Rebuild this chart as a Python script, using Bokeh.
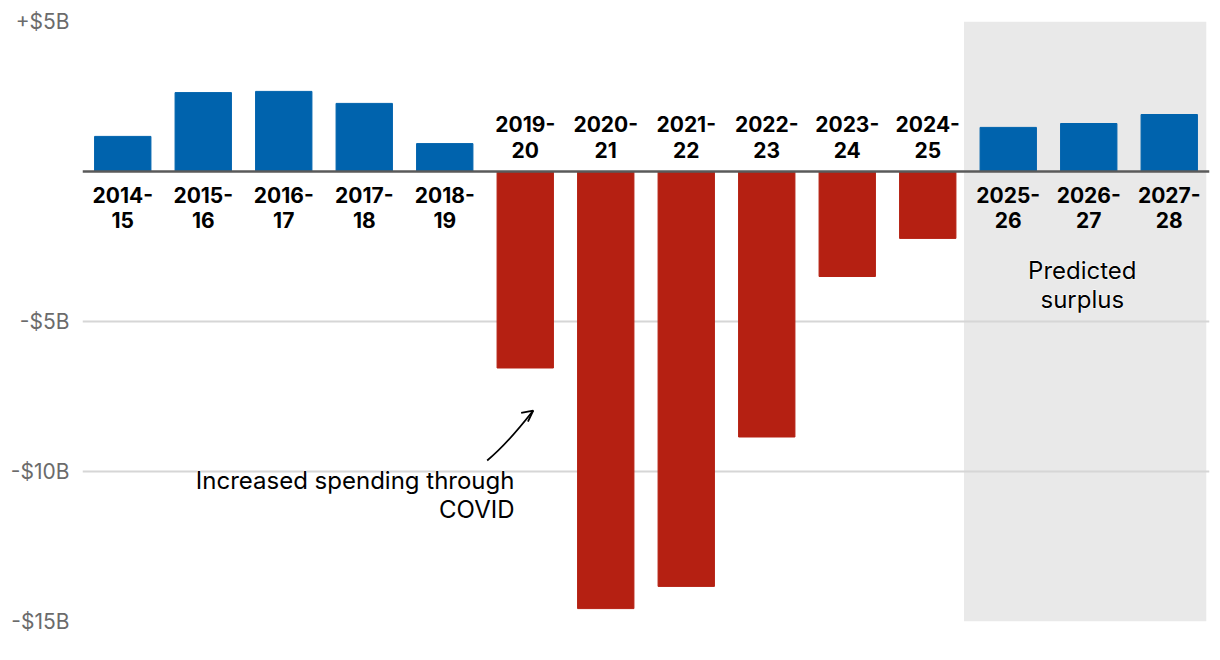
from bokeh.plotting import figure
from bokeh.models import (ColumnDataSource, FactorRange, Range1d, FixedTicker, Span,
                          BoxAnnotation, Label, Arrow, OpenHead)
from bokeh.core.properties import value
from bokeh.embed import file_html
from bokeh.resources import INLINE

# ---- data ----
years = ["2014-15", "2015-16", "2016-17", "2017-18", "2018-19", "2019-20", "2020-21",
         "2021-22", "2022-23", "2023-24", "2024-25", "2025-26", "2026-27", "2027-28"]
balance = [1.17, 2.63, 2.67, 2.27, 0.93, -6.55, -14.57, -13.83, -8.85, -3.5, -2.23,
           1.47, 1.6, 1.9]
tick_values = [5, -5, -10, -15]
tick_labels = ["+$5B", "-$5B", "-$10B", "-$15B"]
BLUE = "#0063ad"
RED = "#b52012"
FONT = "Inter"

colors = [BLUE if v >= 0 else RED for v in balance]
labels = [y.replace("-", "-\n", 1) for y in years]

p = figure(width=1212, height=652, x_range=FactorRange(*years, range_padding=0),
           y_range=Range1d(-15, 5), output_backend="svg", toolbar_location=None,
           min_border_left=82, min_border_right=3, min_border_top=21,
           min_border_bottom=31)
p.outline_line_color = None
p.background_fill_color = "white"
p.xaxis.visible = False
p.xgrid.grid_line_color = None

# y axis
p.yaxis.ticker = FixedTicker(ticks=tick_values)
p.yaxis.major_label_overrides = {v: t for v, t in zip(tick_values, tick_labels)}
p.yaxis.axis_line_color = None
p.yaxis.major_tick_line_color = None
p.yaxis.minor_tick_line_color = None
p.yaxis.major_tick_out = 0
p.yaxis.major_label_standoff = 13
p.yaxis.major_label_text_font = FONT
p.yaxis.major_label_text_font_size = "21px"
p.yaxis.major_label_text_color = "#6b6b6b"

p.ygrid.ticker = FixedTicker(ticks=tick_values)
p.ygrid.grid_line_color = "#d6d6d6"
p.ygrid.grid_line_width = 2

# shaded prediction area
shade = BoxAnnotation(left=10.95, right=13.96, bottom=-15, top=5,
                      fill_color="#e9e9e9", fill_alpha=1, line_color=None, level="image")
p.add_layout(shade)

src = ColumnDataSource(dict(year=years, val=balance, color=colors))
p.vbar(x="year", top="val", bottom=0, width=0.7, color="color", source=src)

zero = Span(location=0, dimension="width", line_color="#5a5a5a", line_width=2.5,
            level="overlay")
p.add_layout(zero)

# category labels
pos = ColumnDataSource(dict(x=[y for y, v in zip(years, balance) if v >= 0],
                            t=[l for l, v in zip(labels, balance) if v >= 0],
                            y=[0] * sum(1 for v in balance if v >= 0)))
neg = ColumnDataSource(dict(x=[y for y, v in zip(years, balance) if v < 0],
                            t=[l for l, v in zip(labels, balance) if v < 0],
                            y=[0] * sum(1 for v in balance if v < 0)))
common = dict(text="t", text_font=value(FONT), text_font_size="21px",
              text_font_style="bold", text_color="black", text_align="center",
              text_line_height=1.02)
p.text(x="x", y="y", source=pos, text_baseline="top", y_offset=11, **common)
p.text(x="x", y="y", source=neg, text_baseline="bottom", y_offset=-9, **common)

# annotations
def halo_label(x, y, text, align):
    for col, outline in (("white", "white"), ("black", None)):
        lab = Label(x=x, y=y, text=text, text_font=FONT, text_font_size="24px",
                    text_color=col, text_align=align, text_baseline="top",
                    text_line_height=0.98)
        if outline:
            lab.text_outline_color = outline
        p.add_layout(lab)

halo_label(5.366, -9.82, "Increased spending through\nCOVID", "right")
halo_label(12.42, -2.82, "Predicted\nsurplus", "center")

p.quadratic(x0=[5.027], y0=[-9.633], x1=[5.599], y1=[-7.967], cx=[5.276], cy=[-9.08],
            line_color="black", line_width=1.8)
p.add_layout(Arrow(end=OpenHead(size=11, line_width=1.8, line_color="black"),
                   x_start=5.55, y_start=-8.07, x_end=5.599, y_end=-7.967,
                   line_alpha=0))

open("out.html", "w").write(file_html(p, INLINE))
